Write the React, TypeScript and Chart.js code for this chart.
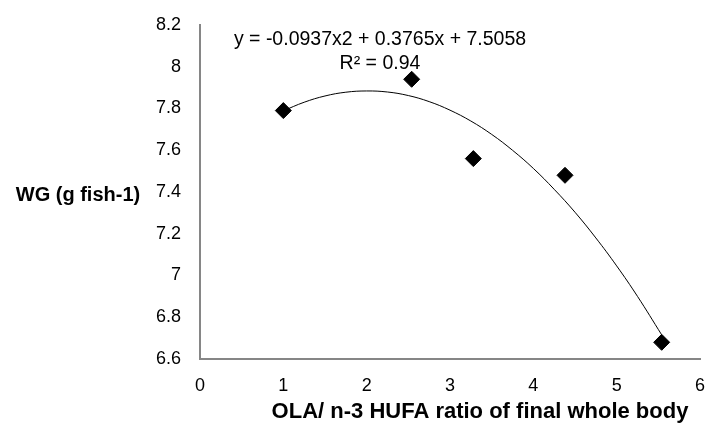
import React, { useEffect, useRef } from 'react';
import { Chart, registerables } from 'chart.js';

Chart.register(...registerables);

const FONT = '"Liberation Sans", Arial, Helvetica, sans-serif';

// Observed data points (OLA / n-3 HUFA ratio vs weight gain)
const ratioValues = [1.0, 2.54, 3.28, 4.38, 5.54];
const weightGainValues = [7.79, 7.94, 7.56, 7.48, 6.68];

// Polynomial trend line
const trendRatio = [1.0, 1.25, 1.5, 1.75, 2.0, 2.25, 2.5, 2.75, 3.0, 3.25, 3.5, 3.75, 4.0, 4.25, 4.5, 4.75, 5.0, 5.25, 5.54];
const trendWeightGain = [7.789, 7.830, 7.860, 7.878, 7.884, 7.879, 7.862, 7.833, 7.792, 7.740, 7.676, 7.600, 7.513, 7.413, 7.303, 7.180, 7.046, 6.900, 6.716];

// Axis ticks
const yTickValues = [6.6, 6.8, 7, 7.2, 7.4, 7.6, 7.8, 8, 8.2];
const yTickLabels = ['6.6', '6.8', '7', '7.2', '7.4', '7.6', '7.8', '8', '8.2'];
const xTickValues = [0, 1, 2, 3, 4, 5, 6];
const xTickLabels = ['0', '1', '2', '3', '4', '5', '6'];

// Texts
const equationLines = ['y = -0.0937x2 + 0.3765x + 7.5058', 'R\u00B2 = 0.94'];
const yAxisTitle = 'WG (g fish-1)';
const xAxisTitle = 'OLA/ n-3 HUFA ratio of final whole body';

const textPlugin = {
  id: 'customTexts',
  afterDraw(chart: any) {
    const ctx = chart.ctx;
    ctx.save();
    ctx.fillStyle = '#000000';
    ctx.textAlign = 'center';
    ctx.textBaseline = 'middle';
    ctx.font = `bold 20px ${FONT}`;
    ctx.fillText(yAxisTitle, 78, 195);
    ctx.font = `bold 22px ${FONT}`;
    ctx.fillText(xAxisTitle, 480, 412);
    ctx.font = `19.5px ${FONT}`;
    ctx.fillText(equationLines[0], 380, 40);
    ctx.fillText(equationLines[1], 380, 64);
    ctx.restore();
  },
};

export default function App() {
  const canvasRef = useRef<HTMLCanvasElement | null>(null);

  useEffect(() => {
    const canvas = canvasRef.current;
    if (!canvas) return;
    const chart = new Chart(canvas, {
      type: 'scatter',
      data: {
        datasets: [
          {
            label: 'Trend',
            type: 'line',
            data: trendRatio.map((x, i) => ({ x, y: trendWeightGain[i] })),
            borderColor: '#000000',
            borderWidth: 1,
            pointRadius: 0,
            fill: false,
            tension: 0.4,
            order: 2,
          },
          {
            label: 'WG',
            data: ratioValues.map((x, i) => ({ x, y: weightGainValues[i] })),
            pointStyle: 'rectRot',
            pointRadius: 8,
            pointHoverRadius: 8,
            backgroundColor: '#000000',
            borderColor: '#000000',
            borderWidth: 1,
            order: 1,
          },
        ],
      },
      options: {
        animation: false,
        responsive: false,
        devicePixelRatio: 1,
        layout: { padding: { left: 0, right: 4, top: 25, bottom: 0 } },
        plugins: {
          legend: { display: false },
          tooltip: { enabled: false },
          title: { display: false },
        },
        scales: {
          x: {
            type: 'linear',
            min: 0,
            max: 6,
            afterBuildTicks: (scale: any) => {
              scale.ticks = xTickValues.map((v) => ({ value: v }));
            },
            afterFit: (scale: any) => {
              scale.height = 64;
              scale.paddingLeft = 0;
              scale.paddingRight = 0;
            },
            ticks: {
              color: '#000000',
              font: { family: FONT, size: 18 },
              padding: 16,
              maxRotation: 0,
              autoSkip: false,
              callback: (value: any) => {
                const idx = xTickValues.indexOf(Number(value));
                return idx >= 0 ? xTickLabels[idx] : '';
              },
            },
            grid: { display: false, drawTicks: false },
            border: { display: true, color: '#868686', width: 2 },
          },
          y: {
            type: 'linear',
            min: 6.6,
            max: 8.2,
            afterBuildTicks: (scale: any) => {
              scale.ticks = yTickValues.map((v) => ({ value: v }));
            },
            afterFit: (scale: any) => {
              scale.width = 200;
              scale.paddingTop = 0;
              scale.paddingBottom = 0;
            },
            ticks: {
              color: '#000000',
              font: { family: FONT, size: 18 },
              padding: 19,
              autoSkip: false,
              callback: (value: any) => {
                const v = Number(value);
                const idx = yTickValues.findIndex((t) => Math.abs(t - v) < 1e-6);
                return idx >= 0 ? yTickLabels[idx] : '';
              },
            },
            grid: { display: false, drawTicks: false },
            border: { display: true, color: '#868686', width: 2 },
          },
        },
      },
      plugins: [textPlugin],
    });
    return () => {
      chart.destroy();
    };
  }, []);

  return (
    <div style={{ position: 'absolute', left: 0, top: 0, width: 709, height: 423, background: '#ffffff' }}>
      <canvas ref={canvasRef} width={709} height={423} />
    </div>
  );
}
